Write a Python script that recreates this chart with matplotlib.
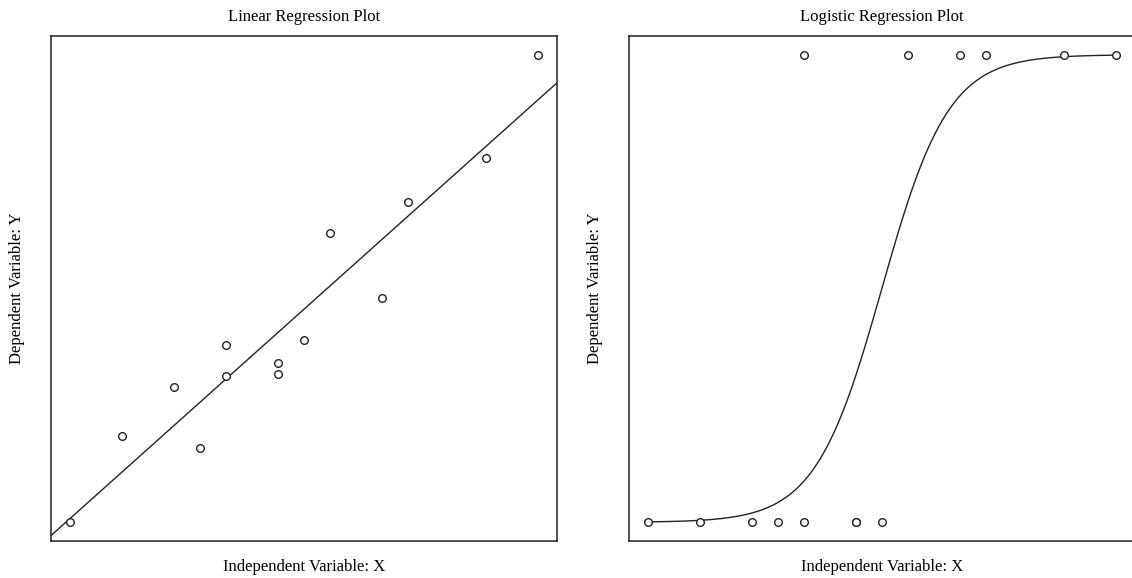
"""
Dois painéis: regressão linear e regressão logística (sem ticks).
"""

import matplotlib.pyplot as plt
import numpy as np

plt.rcParams["font.family"] = ["Liberation Serif", "DejaVu Serif"]

# painel linear
x_lin = np.array([1, 3, 5, 6, 7, 7, 9, 9, 10, 11, 13, 14, 17, 19])
y_lin = np.array([2.0, 10.6, 15.5, 9.4, 19.7, 16.6, 17.9, 16.8, 20.2,
                  31.0, 24.4, 34.1, 38.5, 48.8])

# painel logístico
x_log = np.array([1, 3, 5, 6, 7, 9, 9, 10, 7, 11, 13, 14, 17, 19])
y_log = np.array([0, 0, 0, 0, 0, 0, 0, 0, 1, 1, 1, 1, 1, 1])
b0_log = -7.8
b1_log = 0.78

cor = "#222222"

fig = plt.figure(figsize=(11.32, 5.78), dpi=100)
ax1 = fig.add_axes([0.0451, 0.064, 0.4467, 0.8737])
ax2 = fig.add_axes([0.5557, 0.064, 0.4467, 0.8737])


def limites(v):
    r = v.max() - v.min()
    return v.min() - 0.04 * r, v.max() + 0.04 * r


# regressão linear
ax1.plot(x_lin, y_lin, "o", mfc="white", mec=cor, ms=5.5, mew=1.0, zorder=3)
coef = np.polyfit(x_lin, y_lin, 1)
ax1.axline((0, coef[1]), slope=coef[0], color=cor, lw=1.0)
ax1.set_xlim(*limites(x_lin))
ax1.set_ylim(*limites(y_lin))
ax1.set_title("Linear Regression Plot", fontsize=12, pad=11)

# regressão logística
xx = np.linspace(x_log.min(), x_log.max(), 300)
pp = 1.0 / (1.0 + np.exp(-(b0_log + b1_log * xx)))
ax2.plot(x_log, y_log, "o", mfc="white", mec=cor, ms=5.5, mew=1.0, zorder=3)
ax2.plot(xx, pp, color=cor, lw=1.0)
ax2.set_xlim(*limites(x_log))
ax2.set_ylim(-0.04, 1.04)
ax2.set_title("Logistic Regression Plot", fontsize=12, pad=11)

for ax in (ax1, ax2):
    ax.set_xticks([])
    ax.set_yticks([])
    ax.set_xlabel("Independent Variable: X", fontsize=12, labelpad=13)
    ax.set_ylabel("Dependent Variable: Y", fontsize=12, labelpad=19)
    for s in ax.spines.values():
        s.set_color(cor)
        s.set_linewidth(1.1)

fig.savefig("out.png", dpi=100)
